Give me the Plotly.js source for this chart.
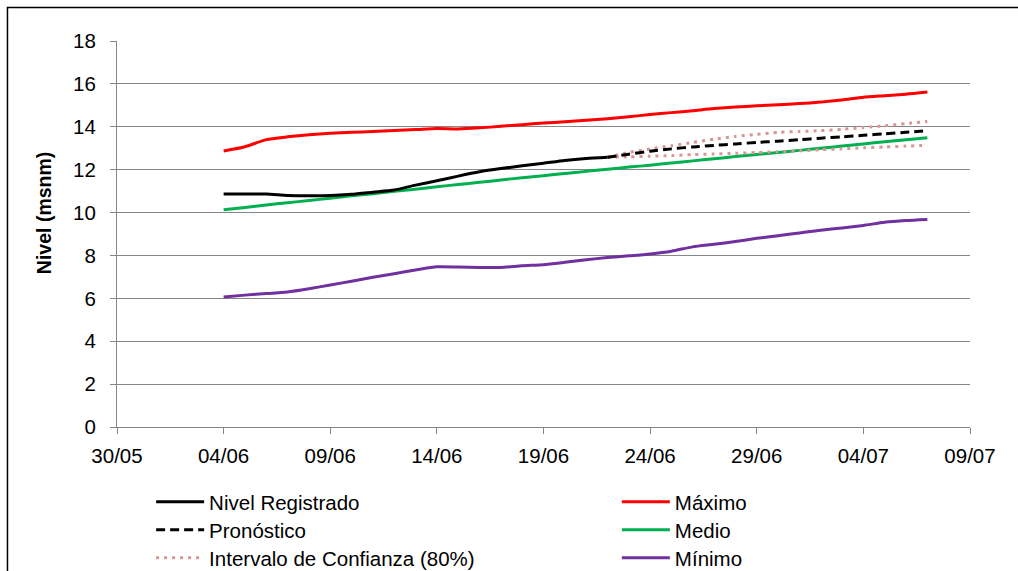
<!DOCTYPE html>
<html>
<head>
<meta charset="utf-8">
<script src="https://cdn.plot.ly/plotly-3.0.1.min.js"></script>
<style>
  html, body { margin: 0; padding: 0; background: #fff; }
  #chart { width: 1018px; height: 571px; }
</style>
</head>
<body>
<div id="chart"></div>
<script>
// Dates (day/month), 04/06 .. 07/07
var fechas = ['2014-06-04','2014-06-05','2014-06-06','2014-06-07','2014-06-08','2014-06-09','2014-06-10','2014-06-11','2014-06-12','2014-06-13',
              '2014-06-14','2014-06-15','2014-06-16','2014-06-17','2014-06-18','2014-06-19','2014-06-20','2014-06-21','2014-06-22','2014-06-23',
              '2014-06-24','2014-06-25','2014-06-26','2014-06-27','2014-06-28','2014-06-29','2014-06-30','2014-07-01','2014-07-02','2014-07-03',
              '2014-07-04','2014-07-05','2014-07-06','2014-07-07'];
var fechasRegistro = fechas.slice(0, 19);   // 04/06 .. 22/06
var fechasPronostico = fechas.slice(18);    // 22/06 .. 07/07

var nivelRegistrado = [10.87,10.87,10.86,10.80,10.78,10.79,10.85,10.95,11.05,11.28,11.48,11.70,11.90,12.05,12.18,12.30,12.43,12.52,12.58];
var pronostico      = [12.58,12.72,12.86,12.97,13.06,13.13,13.20,13.27,13.33,13.40,13.47,13.53,13.60,13.67,13.74,13.82];
var intervaloSup    = [12.58,12.80,12.97,13.12,13.27,13.42,13.55,13.65,13.74,13.78,13.82,13.88,13.96,14.05,14.15,14.25];
var intervaloInf    = [12.58,12.60,12.63,12.66,12.70,12.73,12.76,12.80,12.84,12.88,12.93,12.97,13.02,13.06,13.10,13.14];
var maximo = [12.87,13.07,13.40,13.53,13.63,13.70,13.74,13.78,13.83,13.87,13.92,13.90,13.95,14.02,14.10,14.18,14.23,14.30,14.38,14.47,
              14.57,14.66,14.75,14.85,14.92,14.98,15.03,15.08,15.15,15.25,15.38,15.45,15.52,15.62];
var medio  = [10.13,10.24,10.35,10.46,10.56,10.67,10.78,10.88,10.99,11.09,11.20,11.31,11.41,11.52,11.62,11.72,11.82,11.92,12.02,12.12,
              12.21,12.31,12.41,12.51,12.61,12.71,12.80,12.90,13.00,13.10,13.20,13.30,13.40,13.49];
var minimo = [6.06,6.15,6.22,6.30,6.45,6.62,6.80,6.98,7.15,7.32,7.47,7.46,7.44,7.44,7.52,7.57,7.68,7.80,7.90,7.98,
              8.07,8.20,8.40,8.52,8.65,8.80,8.92,9.05,9.18,9.28,9.40,9.55,9.63,9.68];

var FONT = '"Liberation Sans", Arial, sans-serif';
var LW = 3;
var SM = 0.6;

var traces = [
  {x: fechas, y: medio, name: 'Medio', legend: 'legend5',
   mode: 'lines', line: {color: '#00B050', width: LW, shape: 'spline', smoothing: SM}},
  {x: fechas, y: maximo, name: 'Máximo', legend: 'legend4',
   mode: 'lines', line: {color: '#FF0000', width: LW, shape: 'spline', smoothing: SM}},
  {x: fechas, y: minimo, name: 'Mínimo', legend: 'legend6',
   mode: 'lines', line: {color: '#7030A0', width: LW, shape: 'spline', smoothing: SM}},
  {x: fechasPronostico, y: intervaloSup, name: 'Intervalo de Confianza (80%)', legend: 'legend3',
   legendgroup: 'ic', mode: 'lines', line: {color: '#D99694', width: LW, dash: '3px,5px', shape: 'spline', smoothing: SM}},
  {x: fechasPronostico, y: intervaloInf, name: 'Intervalo de Confianza (80%)', legend: 'legend3', showlegend: false,
   legendgroup: 'ic', mode: 'lines', line: {color: '#D99694', width: LW, dash: '3px,5px', shape: 'spline', smoothing: SM}},
  {x: fechasPronostico, y: pronostico, name: 'Pronóstico', legend: 'legend2',
   mode: 'lines', line: {color: '#000000', width: LW, dash: '9px,5px', shape: 'spline', smoothing: SM}},
  {x: fechasRegistro, y: nivelRegistrado, name: 'Nivel Registrado', legend: 'legend',
   mode: 'lines', line: {color: '#000000', width: LW, shape: 'spline', smoothing: SM}}
];

function leg(xp, ypx) {
  return {
    orientation: 'v', xref: 'paper', yref: 'container',
    x: xp, y: 1 - ypx / 571, xanchor: 'left', yanchor: 'middle',
    font: {family: FONT, size: 20.5, color: '#000'},
    bgcolor: 'rgba(0,0,0,0)', borderwidth: 0, itemwidth: 48,
    tracegroupgap: 0, itemclick: false, itemdoubleclick: false
  };
}

var layout = {
  width: 1018, height: 571,
  margin: {l: 117, r: 48, t: 41, b: 144},
  paper_bgcolor: '#ffffff', plot_bgcolor: '#ffffff',
  font: {family: FONT, size: 20.5, color: '#000'},
  hovermode: false,
  xaxis: {
    type: 'date', range: ['2014-05-30', '2014-07-09'],
    tick0: '2014-05-30', dtick: 5 * 86400000, tickformat: '%d/%m',
    showgrid: false, showline: true, linecolor: '#868686', linewidth: 1,
    ticks: 'outside', ticklen: 6, tickcolor: '#868686', tickwidth: 1,
    tickfont: {family: FONT, size: 20.5, color: '#000'}, ticklabelstandoff: 4,
    zeroline: false, fixedrange: true, automargin: false
  },
  yaxis: {
    range: [0, 18], dtick: 2, tick0: 0,
    showgrid: true, gridcolor: '#868686', gridwidth: 1,
    showline: true, linecolor: '#868686', linewidth: 1,
    ticks: 'outside', ticklen: 6, tickcolor: '#868686', tickwidth: 1,
    tickfont: {family: FONT, size: 20.5, color: '#000'}, ticklabelstandoff: 10,
    zeroline: false, fixedrange: true, automargin: false
  },
  showlegend: true,
  legend:  leg(0.040, 502),
  legend2: leg(0.040, 530),
  legend3: leg(0.040, 558),
  legend4: leg(0.586, 502),
  legend5: leg(0.586, 530),
  legend6: leg(0.586, 558),
  annotations: [{
    text: '<b>Nivel (msnm)</b>', textangle: -90,
    xref: 'paper', yref: 'paper', x: -0.0856, y: 0.554,
    xanchor: 'center', yanchor: 'middle', showarrow: false,
    font: {family: FONT, size: 19.5, color: '#000'}
  }],
  shapes: [{
    type: 'rect', xref: 'paper', yref: 'paper',
    x0: -0.1284, x1: 1.3, y0: -0.8, y1: 1.0868,
    line: {color: '#000000', width: 1.5}, fillcolor: 'rgba(0,0,0,0)', layer: 'below'
  }]
};

Plotly.newPlot('chart', traces, layout, {staticPlot: true, displayModeBar: false});
</script>
</body>
</html>
